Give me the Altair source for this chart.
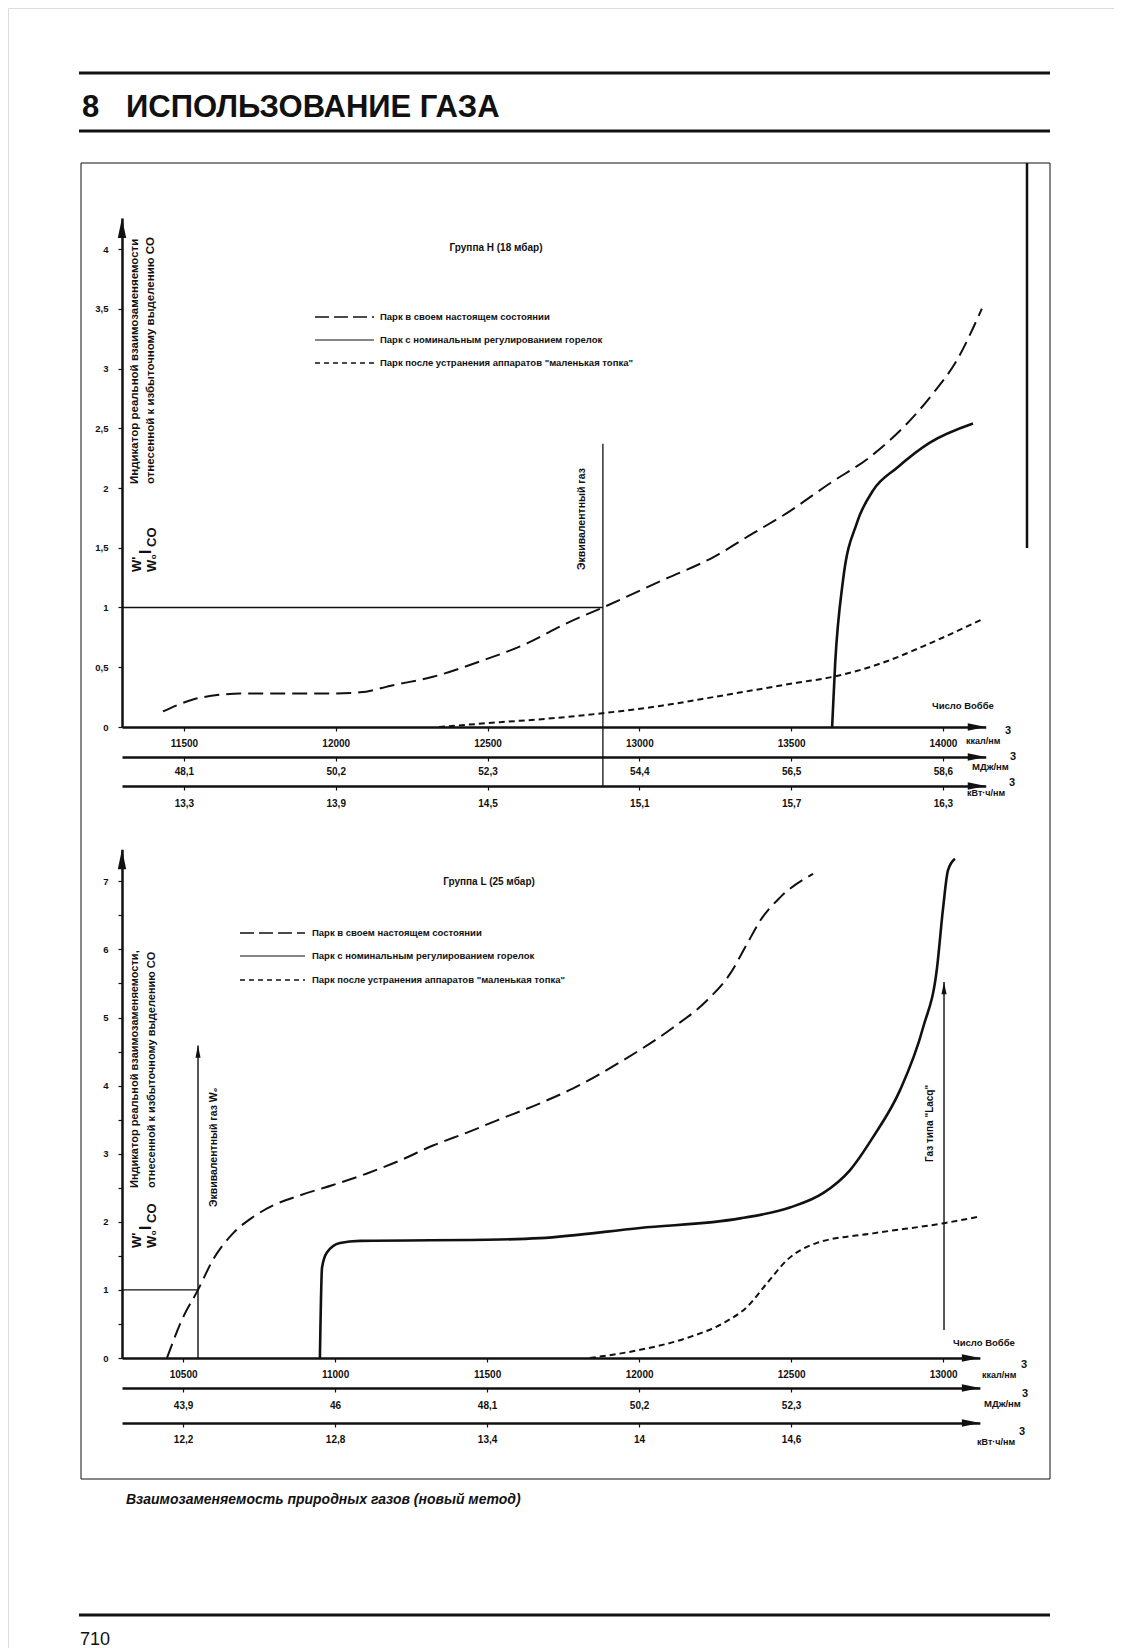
import altair as alt
import pandas as pd

# ---------------- data ----------------
# Upper panel: group H (18 mbar). x = Wobbe number (kcal/nm3), y = W'/W0 I_CO
h_present_x = [11431, 11530, 11619, 11685, 11826, 11971, 12080, 12189, 12320, 12465, 12630, 12762,
               12880, 13078, 13243, 13374, 13486, 13628, 13760, 13882, 13967, 14046, 14128]
h_present_y = [0.13, 0.23, 0.27, 0.28, 0.28, 0.28, 0.29, 0.35, 0.42, 0.54, 0.70, 0.87,
               1.00, 1.23, 1.42, 1.62, 1.79, 2.04, 2.26, 2.54, 2.79, 3.07, 3.50]
h_nominal_x = [13635, 13645, 13671, 13717, 13770, 13849, 13957, 14099]
h_nominal_y = [0.0, 0.53, 1.23, 1.71, 1.98, 2.17, 2.38, 2.54]
h_elim_x = [12340, 12540, 12700, 12860, 13078, 13243, 13519, 13638, 13793, 13957, 14128]
h_elim_y = [0.0, 0.04, 0.07, 0.11, 0.18, 0.25, 0.37, 0.42, 0.53, 0.70, 0.90]

h_x_extent = [11296, 14141]
h_y_extent = [0, 4.26]
h_kcal_ticks = [11500, 12000, 12500, 13000, 13500, 14000]
h_mj_labels = ["48,1", "50,2", "52,3", "54,4", "56,5", "58,6"]
h_kwh_labels = ["13,3", "13,9", "14,5", "15,1", "15,7", "16,3"]
h_y_ticks = [0, 0.5, 1, 1.5, 2, 2.5, 3, 3.5, 4]
h_equiv_x = [12880]
h_equiv_top = [2.37]
h_ref_level = [1]

# Lower panel: group L (25 mbar)
l_present_x = [10447, 10496, 10549, 10598, 10664, 10730, 10796, 10885, 10993, 11105, 11213, 11322,
               11434, 11533, 11674, 11783, 11947, 12111, 12223, 12299, 12355, 12398, 12463, 12572]
l_present_y = [0.0, 0.56, 1.0, 1.44, 1.83, 2.07, 2.24, 2.39, 2.54, 2.71, 2.90, 3.12,
               3.31, 3.49, 3.74, 3.96, 4.37, 4.85, 5.25, 5.64, 6.08, 6.42, 6.76, 7.11]
l_nominal_x = [10950, 10957, 10973, 11016, 11082, 11542, 11674, 12003, 12332, 12496, 12605, 12694,
               12769, 12858, 12934, 12980, 13000, 13016, 13039]
l_nominal_y = [0.0, 1.33, 1.55, 1.69, 1.72, 1.74, 1.76, 1.91, 2.05, 2.21, 2.42, 2.76,
               3.24, 3.93, 4.85, 5.73, 6.61, 7.16, 7.33]
l_elim_x = [11838, 12003, 12168, 12276, 12355, 12421, 12487, 12585, 12769, 13003, 13112]
l_elim_y = [0.0, 0.12, 0.31, 0.51, 0.75, 1.10, 1.44, 1.69, 1.83, 1.98, 2.07]

l_x_extent = [10299, 13121]
l_y_extent = [0, 7.47]
l_kcal_ticks = [10500, 11000, 11500, 12000, 12500, 13000]
l_sec_ticks = [10500, 11000, 11500, 12000, 12500]
l_mj_labels = ["43,9", "46", "48,1", "50,2", "52,3"]
l_kwh_labels = ["12,2", "12,8", "13,4", "14", "14,6"]
l_y_ticks = [0, 0.5, 1, 1.5, 2, 2.5, 3, 3.5, 4, 4.5, 5, 5.5, 6, 6.5, 7]
l_equiv_x = [10549]
l_equiv_top = [4.59]
l_lacq_x = [13003]
l_lacq_bottom = [0.41]
l_lacq_top = [5.52]
l_ref_level = [1]

legend_texts = ["Парк в своем настоящем состоянии",
                "Парк с номинальным регулированием горелок",
                "Парк после устранения аппаратов \"маленькая топка\""]

# ---------------- layout ----------------
FONT = "Liberation Sans, Arial, Helvetica, sans-serif"
W, H = 1106, 1640
INK = "#111111"


def P(v):
    return v - 8  # page pixel -> chart pixel


ARROW_UP = "M0,0L-0.42,2L0.42,2Z"
ARROW_RIGHT = "M0,0L-2,-0.42L-2,0.42Z"

dummy = pd.DataFrame({"d": [0]})


def axis(**kw):
    base = dict(title="", domainColor=INK, tickColor=INK, labelColor=INK, labelFont=FONT,
                labelFontSize=10, labelFontWeight="bold", grid=False, labelFlush=False,
                labelOverlap=False, labelBound=False, tickWidth=1.2, domainWidth=2.5, tickSize=4)
    base.update(kw)
    return alt.Axis(**base)


def lookup_expr(ticks, labels):
    t = ",".join(str(v) for v in ticks)
    lab = ",".join("'" + s + "'" for s in labels)
    return "[" + lab + "][indexof([" + t + "], datum.value)]"


COMMA = "replace(toString(datum.value), '.', ',')"


def build_panel(xext, yext, x_axis_px, y0_px, slope, unit, kcal_ticks, sec_ticks, mj_labels,
                kwh_labels, y_ticks, y_label_expr, mj_px, kwh_px, pads,
                present, nominal, elim):
    SX = alt.Scale(domain=xext, range=[P(x_axis_px), P(x_axis_px) + (xext[1] - xext[0]) * slope],
                   zero=False, nice=False)
    SY = alt.Scale(domain=yext, range=[P(y0_px), P(y0_px) - yext[1] * unit], zero=False, nice=False)
    AXK = axis(orient="bottom", offset=P(y0_px) - H, values=kcal_ticks, format="d",
               labelPadding=pads[0], labelBaseline="middle")
    AXM = axis(orient="bottom", offset=P(mj_px) - H, values=sec_ticks,
               labelExpr=lookup_expr(sec_ticks, mj_labels), labelPadding=pads[1], labelBaseline="middle")
    AXW = axis(orient="bottom", offset=P(kwh_px) - H, values=sec_ticks,
               labelExpr=lookup_expr(sec_ticks, kwh_labels), labelPadding=pads[2], labelBaseline="middle")
    AY = axis(orient="left", offset=-P(x_axis_px), values=y_ticks, labelExpr=y_label_expr,
              labelPadding=10, labelFontSize=9.5)

    def X(f="x"):
        return alt.X(f + ":Q", scale=SX, axis=AXK)

    def Y(f="y"):
        return alt.Y(f + ":Q", scale=SY, axis=AY)

    layers = []
    styles = [(present, [15, 7], 2.0), (nominal, None, 2.6), (elim, [6, 4], 2.0)]
    for (xs, ys), dash, sw in styles:
        kw = dict(color=INK, strokeWidth=sw, interpolate="monotone", strokeCap="butt")
        if dash:
            kw["strokeDash"] = dash
        layers.append(alt.Chart(pd.DataFrame({"x": xs, "y": ys})).mark_line(**kw)
                      .encode(x=X(), y=Y()))
    # axis arrowheads
    layers.append(alt.Chart(pd.DataFrame({"x": [xext[0]], "y": [yext[1]]}))
                  .mark_point(shape=ARROW_UP, filled=True, size=400, color=INK, opacity=1, strokeWidth=0)
                  .encode(x=X(), y=Y()))
    layers.append(alt.Chart(pd.DataFrame({"x": [xext[1]], "y": [0]}))
                  .mark_point(shape=ARROW_RIGHT, filled=True, size=324, color=INK, opacity=1, strokeWidth=0)
                  .encode(x=X(), y=Y()))
    main = alt.layer(*layers)

    tip = pd.DataFrame({"x": [xext[1]]})
    mj = alt.Chart(tip).mark_point(shape=ARROW_RIGHT, filled=True, size=324, color=INK, opacity=1,
                                   strokeWidth=0).encode(
        x=alt.X("x:Q", scale=SX, axis=AXM), y=alt.value(P(mj_px)))
    kwh = alt.Chart(tip).mark_point(shape=ARROW_RIGHT, filled=True, size=324, color=INK, opacity=1,
                                    strokeWidth=0).encode(
        x=alt.X("x:Q", scale=SX, axis=AXW), y=alt.value(P(kwh_px)))
    return main, mj, kwh, X, Y


# ---------------- upper panel ----------------
h_main, h_mj, h_kwh, HX, HY = build_panel(
    h_x_extent, h_y_extent, 122, 727, 0.3036, 119.5, h_kcal_ticks, h_kcal_ticks, h_mj_labels,
    h_kwh_labels, h_y_ticks, COMMA, 757, 786, (12, 10, 13),
    (h_present_x, h_present_y), (h_nominal_x, h_nominal_y), (h_elim_x, h_elim_y))

h_extra = [
    alt.Chart(pd.DataFrame({"x": h_equiv_x, "y": h_equiv_top})).mark_rule(color=INK, strokeWidth=1.3)
    .encode(x=HX(), y=HY(), y2=alt.value(P(786))),
    alt.Chart(pd.DataFrame({"x": [h_x_extent[0]], "x2": h_equiv_x, "y": h_ref_level}))
    .mark_rule(color=INK, strokeWidth=1.3).encode(x=HX(), x2=alt.X2("x2"), y=HY()),
]
h_main = alt.layer(h_main, *h_extra)

# ---------------- lower panel ----------------
l_main, l_mj, l_kwh, LX, LY = build_panel(
    l_x_extent, l_y_extent, 122, 1358, 0.304, 68.1, l_kcal_ticks, l_sec_ticks, l_mj_labels,
    l_kwh_labels, l_y_ticks, "datum.value % 1 == 0 ? toString(datum.value) : ''", 1388, 1423,
    (12, 13, 12),
    (l_present_x, l_present_y), (l_nominal_x, l_nominal_y), (l_elim_x, l_elim_y))

l_extra = [
    alt.Chart(pd.DataFrame({"x": l_equiv_x, "y": [0], "y2": l_equiv_top})).mark_rule(color=INK, strokeWidth=1.4)
    .encode(x=LX(), y=LY(), y2=alt.Y2("y2")),
    alt.Chart(pd.DataFrame({"x": l_equiv_x, "y": l_equiv_top}))
    .mark_point(shape=ARROW_UP, filled=True, size=150, color=INK, opacity=1, strokeWidth=0)
    .encode(x=LX(), y=LY()),
    alt.Chart(pd.DataFrame({"x": l_lacq_x, "y": l_lacq_bottom, "y2": l_lacq_top}))
    .mark_rule(color=INK, strokeWidth=1.4).encode(x=LX(), y=LY(), y2=alt.Y2("y2")),
    alt.Chart(pd.DataFrame({"x": l_lacq_x, "y": l_lacq_top}))
    .mark_point(shape=ARROW_UP, filled=True, size=150, color=INK, opacity=1, strokeWidth=0)
    .encode(x=LX(), y=LY()),
    alt.Chart(pd.DataFrame({"x": [l_x_extent[0]], "x2": l_equiv_x, "y": l_ref_level}))
    .mark_rule(color=INK, strokeWidth=1.3).encode(x=LX(), x2=alt.X2("x2"), y=LY()),
]
l_main = alt.layer(l_main, *l_extra)


# ---------------- page decorations ----------------
def hrule(y, x1, x2, sw=1.0, dash=None):
    kw = dict(color=INK, strokeWidth=sw)
    if dash:
        kw["strokeDash"] = dash
    return alt.Chart(dummy).mark_rule(**kw).encode(
        x=alt.value(P(x1)), x2=alt.value(P(x2)), y=alt.value(P(y)))


def vrule(x, y1, y2, sw=1.0):
    return alt.Chart(dummy).mark_rule(color=INK, strokeWidth=sw).encode(
        x=alt.value(P(x)), y=alt.value(P(y1)), y2=alt.value(P(y2)))


def text(s, x, y, size=10, weight="bold", align="left", baseline="middle", angle=0, style="normal",
         font=FONT):
    kw = dict(text=s, fontSize=size, fontWeight=weight, align=align, baseline=baseline,
              color=INK, font=font, fontStyle=style)
    if angle:
        kw["angle"] = angle
    return alt.Chart(dummy).mark_text(**kw).encode(x=alt.value(P(x)), y=alt.value(P(y)))


deco = [
    # header
    hrule(73, 79, 1050, 3),
    text("8", 82, 117, size=31, baseline="alphabetic"),
    text("ИСПОЛЬЗОВАНИЕ ГАЗА", 126, 117, size=31, baseline="alphabetic"),
    hrule(131, 79, 1050, 3),
    # frame
    hrule(163, 81, 1050, 1),
    hrule(1479, 81, 1050, 1),
    vrule(81, 163, 1479, 1),
    vrule(1050, 163, 1479, 1),
    vrule(1027, 163, 548, 2.5),
    # upper panel texts
    text("Группа H (18 мбар)", 496, 248, size=10, align="center"),
    hrule(317, 315, 374, 1.6, [14, 5]),
    hrule(340, 315, 374, 1.2),
    hrule(363, 315, 374, 1.4, [5, 4]),
    text(legend_texts[0], 380, 317, size=9.5),
    text(legend_texts[1], 380, 340, size=9.5),
    text(legend_texts[2], 380, 363, size=9.5),
    text("Индикатор реальной взаимозаменяемости", 135, 484, size=11.5, angle=270),
    text("отнесенной к избыточному выделению CO", 151, 484, size=11.5, angle=270),
    text("W'", 137, 572, size=13, angle=270),
    text("W₀", 152, 572, size=13, angle=270),
    text("I", 146, 554, size=16, angle=270),
    text("CO", 152, 547, size=13, angle=270),
    text("Эквивалентный газ", 582, 570, size=10.5, angle=270),
    text("Число Воббе", 932, 706, size=9.5),
    text("ккал/нм", 966, 741, size=9),
    text("3", 1005, 731, size=11),
    text("МДж/нм", 972, 767, size=9.5),
    text("3", 1010, 757, size=11),
    text("кВт·ч/нм", 967, 793, size=9),
    text("3", 1009, 783, size=11),
    # lower panel texts
    text("Группа L (25 мбар)", 489, 882, size=10, align="center"),
    hrule(933, 240, 305, 1.6, [14, 5]),
    hrule(956, 240, 305, 1.2),
    hrule(980, 240, 305, 1.4, [5, 4]),
    text(legend_texts[0], 312, 933, size=9.5),
    text(legend_texts[1], 312, 956, size=9.5),
    text(legend_texts[2], 312, 980, size=9.5),
    text("Индикатор реальной взаимозаменяемости,", 135, 1188, size=11, angle=270),
    text("отнесенной к избыточному выделению CO", 152, 1188, size=11, angle=270),
    text("W'", 137, 1248, size=13, angle=270),
    text("W₀", 152, 1248, size=13, angle=270),
    text("I", 146, 1230, size=16, angle=270),
    text("CO", 152, 1223, size=13, angle=270),
    text("Эквивалентный газ W₀", 214, 1207, size=10.5, angle=270),
    text("Газ типа \"Lacq\"", 930, 1162, size=10, angle=270),
    text("Число Воббе", 953, 1343, size=9.5),
    text("ккал/нм", 982, 1375, size=9),
    text("3", 1021, 1365, size=11),
    text("МДж/нм", 984, 1404, size=9.5),
    text("3", 1022, 1394, size=11),
    text("кВт·ч/нм", 977, 1442, size=9),
    text("3", 1019, 1432, size=11),
    # caption and footer
    text("Взаимозаменяемость природных газов (новый метод)", 126, 1500, size=14, style="italic"),
    hrule(1615, 79, 1050, 3),
    text("710", 80, 1645, size=18, weight="normal", baseline="alphabetic"),
]

chart = (
    alt.layer(h_main, h_mj, h_kwh, l_main, l_mj, l_kwh, *deco)
    .resolve_scale(x="independent", y="independent")
    .properties(width=W, height=H, autosize=alt.AutoSizeParams(type="none"), padding=0,
                background="white")
    .configure_view(stroke="transparent")
    .configure(font=FONT)
)

chart.save("out.html", embed_options={"renderer": "svg", "actions": False})
